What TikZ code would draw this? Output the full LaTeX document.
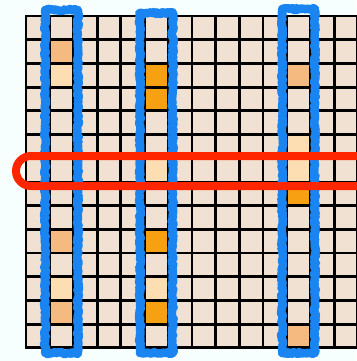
\documentclass[tikz,border=0pt]{standalone}
\usepackage{tikz}
\usetikzlibrary{decorations.pathmorphing}
\definecolor{hatter}{RGB}{246,255,254}
\definecolor{bezs}{RGB}{240,225,210}
\definecolor{halvany}{RGB}{253,221,178}
\definecolor{kozep}{RGB}{245,186,128}
\definecolor{eros}{RGB}{247,160,18}
\definecolor{kek}{RGB}{26,132,240}
\definecolor{piros}{RGB}{255,38,0}
\tikzset{
  racs/.style={line width=2.8pt,black,line cap=rect},
  oszlop/.style={draw=kek,line width=8.5pt,line join=round,
    decorate,decoration={random steps,segment length=1.5pt,amplitude=1.1pt}},
  sor/.style={draw=piros,line width=8pt,rounded corners=15pt},
}

\begin{document}
\begin{tikzpicture}[x=1pt,y=-1pt]
  \fill[hatter] (0,0) rectangle (356,361);
  \useasboundingbox (0,0) rectangle (356,361);
  \def\d{23.7}
  % cellak
  \fill[bezs] (26,16) rectangle ({26+14*\d},{16+14*\d});
  \foreach \i/\j/\c in {1/1/kozep,1/2/halvany,1/9/kozep,1/11/halvany,1/12/kozep,
      5/2/eros,5/3/eros,5/6/halvany,5/9/eros,5/11/halvany,5/12/eros,
      11/2/kozep,11/5/halvany,11/6/halvany,11/7/eros,11/13/kozep}
    \fill[\c] ({26+\i*\d},{16+\j*\d}) rectangle ++(\d,\d);
  % racs
  \foreach \k in {0,...,14} {
    \draw[racs] ({26+\k*\d},16) -- ({26+\k*\d},{16+14*\d});
    \draw[racs] (26,{16+\k*\d}) -- ({26+14*\d},{16+\k*\d});
  }
  % oszlopok es sor
  \foreach \i/\t in {1/10,5/13,11/9}
    \draw[oszlop] ({26+\i*\d-4.5},\t) -- ({26+(\i+1)*\d+4.5},\t)
      -- ({26+(\i+1)*\d+4.5},353) -- ({26+\i*\d-4.5},353) -- cycle;
  \draw[sor] (16,156) rectangle (400,186);
\end{tikzpicture}
\end{document}
